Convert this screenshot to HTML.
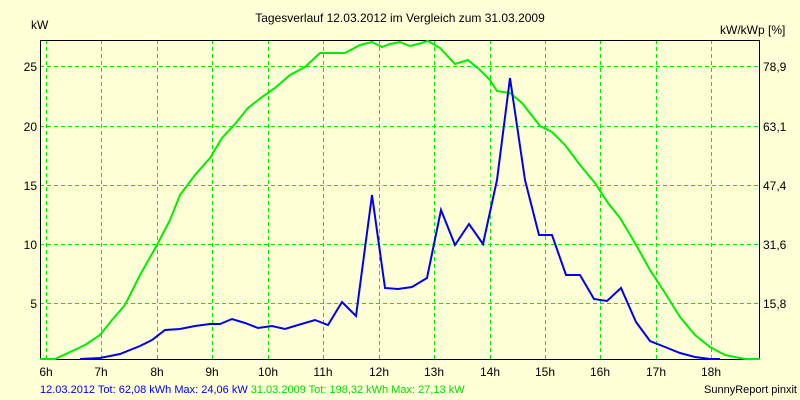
<!DOCTYPE html>
<html><head><style>body{margin:0;background:#ffffd8}svg{display:block}text{font-family:"Liberation Sans",sans-serif;font-size:12px}</style></head><body>
<svg width="800" height="400" xmlns="http://www.w3.org/2000/svg">
<rect width="800" height="400" fill="#ffffd8"/>
<text x="400" y="22" text-anchor="middle">Tagesverlauf 12.03.2012 im Vergleich zum 31.03.2009</text>
<text x="31" y="29">kW</text>
<text x="720" y="34">kW/kWp [%]</text>
<g stroke="#00ee00" stroke-dasharray="4,3" stroke-width="1">
<line x1="46.5" y1="40" x2="46.5" y2="359"/><line x1="101.5" y1="40" x2="101.5" y2="359"/><line x1="157.5" y1="40" x2="157.5" y2="359"/><line x1="212.5" y1="40" x2="212.5" y2="359"/><line x1="268.5" y1="40" x2="268.5" y2="359"/><line x1="323.5" y1="40" x2="323.5" y2="359"/><line x1="379.5" y1="40" x2="379.5" y2="359"/><line x1="434.5" y1="40" x2="434.5" y2="359"/><line x1="490.5" y1="40" x2="490.5" y2="359"/><line x1="545.5" y1="40" x2="545.5" y2="359"/><line x1="600.5" y1="40" x2="600.5" y2="359"/><line x1="656.5" y1="40" x2="656.5" y2="359"/><line x1="711.5" y1="40" x2="711.5" y2="359"/>
<line x1="40" y1="66.5" x2="760" y2="66.5"/><line x1="40" y1="126.5" x2="760" y2="126.5"/><line x1="40" y1="185.5" x2="760" y2="185.5"/><line x1="40" y1="244.5" x2="760" y2="244.5"/><line x1="40" y1="303.5" x2="760" y2="303.5"/>
</g>
<rect x="40.5" y="40.5" width="719" height="319" fill="none" stroke="#000"/>
<g text-anchor="end"><text x="37" y="71">25</text><text x="37" y="131">20</text><text x="37" y="190">15</text><text x="37" y="249">10</text><text x="37" y="308">5</text></g>
<g><text x="763" y="71">78,9</text><text x="763" y="131">63,1</text><text x="763" y="190">47,4</text><text x="763" y="249">31,6</text><text x="763" y="308">15,8</text></g>
<g text-anchor="middle"><text x="46" y="376">6h</text><text x="101" y="376">7h</text><text x="157" y="376">8h</text><text x="212" y="376">9h</text><text x="268" y="376">10h</text><text x="323" y="376">11h</text><text x="379" y="376">12h</text><text x="434" y="376">13h</text><text x="490" y="376">14h</text><text x="545" y="376">15h</text><text x="600" y="376">16h</text><text x="656" y="376">17h</text><text x="711" y="376">18h</text></g>
<polyline fill="none" stroke="#00ee00" stroke-width="2" points="40,359 55,359 70,352 85,345 100,335 112,320 125,305 140,275 157,245 170,220 180,195 195,175 210,158 222,138 235,124 248,108 262,97 275,88 290,75 305,67 320,53 345,53 360,45 372,42 382,47 390,44 400,42 410,46 418,44 428,41 440,48 455,64 468,60 480,70 490,80 497,91 510,93 522,103 540,126 552,132 565,145 580,165 595,183 608,203 620,218 635,243 650,270 665,293 680,317 695,335 710,347 725,355 745,359 760,359"/>
<polyline fill="none" stroke="#0000ee" stroke-width="2" points="80,359 100,358 120,354 140,346 152,340 165,330 180,329 195,326 210,324 220,324 232,319 245,323 258,328 272,326 285,329 298,325 315,320 328,325 342,302 356,316 372,195 385,288 398,289 412,287 427,278 441,210 455,245 469,224 483,244 497,180 510,78 525,180 539,235 552,235 566,275 580,275 594,299 607,301 621,288 636,322 650,341 665,347 680,353 695,357 710,359 720,359"/>
<text x="40" y="393" style="font-size:11px" fill="#0000ee">12.03.2012 Tot: 62,08 kWh Max: 24,06 kW <tspan fill="#00dd00">31.03.2009 Tot: 198,32 kWh Max: 27,13 kW</tspan></text>
<text x="797" y="393" text-anchor="end" style="font-size:11px">SunnyReport pinxit</text>
</svg></body></html>
